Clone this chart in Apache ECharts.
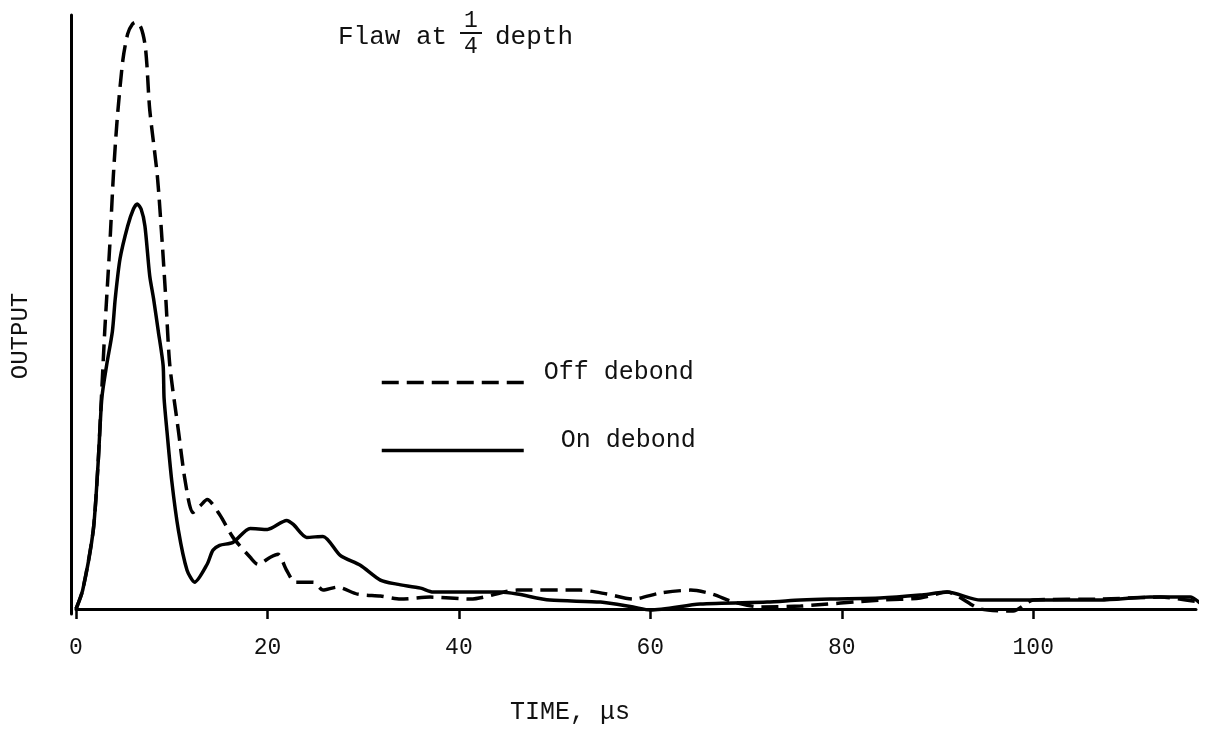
<!DOCTYPE html>
<html>
<head>
<meta charset="utf-8">
<style>
  html, body { margin: 0; padding: 0; background: #fff; }
  #chart { width: 1207px; height: 730px; }
</style>
<script src="https://cdn.jsdelivr.net/npm/echarts@6/dist/echarts.min.js"></script>
</head>
<body>
<div id="chart"></div>
<script>
// values (time in µs, output in arbitrary units)
var timeOff = [0, 0.7, 1.8, 2.3, 2.6, 3.0, 3.2, 3.55, 3.9, 4.3, 4.9, 5.4, 5.9, 6.3, 6.8, 7.2, 7.4, 7.7, 8.5, 9.0, 9.4, 9.8, 10.7, 11.4, 12.2, 13.0, 13.7, 15.0, 16.4, 18.2, 19.0, 20.3, 21.1, 22.0, 22.9, 24.8, 25.8, 27.3, 29.4, 31.8, 33.9, 37.0, 41.2, 46.1, 52.7, 55.5, 58.2, 61.0, 64.2, 66.5, 68.7, 71.5, 75.7, 84.0, 88.2, 91.0, 94.5, 97.9, 100.0, 107.0, 113.3, 117.4];
var outputOff = [0, 19, 79, 145, 202, 279, 312, 369, 435, 492, 552, 578, 588, 590, 584, 568, 548, 502, 435, 369, 309, 245, 179, 129, 97, 104, 110, 95, 72, 52, 45, 52, 55, 39, 27, 27, 19, 22, 15, 13, 10, 12, 10, 19, 19, 15, 10, 16, 19, 15, 7, 2, 3, 9, 11, 17, 0, -2, 9, 10, 12, 7];

var timeOn = [0, 0.7, 1.8, 2.3, 2.7, 3.2, 3.8, 4.1, 4.6, 5.4, 6.0, 6.4, 6.8, 7.2, 7.7, 8.1, 8.6, 9.1, 9.2, 9.5, 10.0, 10.7, 11.6, 12.4, 13.7, 14.3, 15.0, 16.4, 18.2, 20.0, 22.0, 22.7, 24.1, 25.8, 27.6, 29.7, 31.8, 33.5, 36.0, 37.3, 44.3, 46.1, 49.5, 54.8, 58.2, 60.0, 65.2, 72.2, 75.7, 78.8, 84.0, 88.2, 91.0, 94.5, 100.0, 107.0, 112.2, 116.4, 117.4];
var outputOn = [0, 19, 79, 145, 212, 245, 279, 312, 352, 385, 402, 407, 402, 385, 335, 312, 279, 245, 212, 179, 129, 79, 39, 27, 45, 59, 64, 67, 81, 80, 89, 85, 72, 73, 54, 44, 29, 25, 21, 17, 17, 15, 9, 7, 2, -1, 5, 7, 9, 10, 11, 14, 17, 9, 9, 9, 12, 12, 6];

var timeTicks = [0, 20, 40, 60, 80, 100];

var monoFont = '"Liberation Mono", "DejaVu Sans Mono", monospace';

function pairs(xs, ys) {
  return xs.map(function (x, i) { return [x, ys[i]]; });
}

// legend label sits a bit above its line sample, so add an empty second line
function legendLabel(name) {
  return '{t|' + name + '}\n{s| }';
}
var legendRich = {
  t: { fontFamily: monoFont, fontSize: 25, color: '#111' },
  s: { fontSize: 4, height: 20 }
};

var chartDom = document.getElementById('chart');
var myChart = echarts.init(chartDom, null, { renderer: 'canvas' });

var option = {
  backgroundColor: '#ffffff',
  animation: false,
  grid: { left: 76, right: 11, top: 15, bottom: 113 },
  xAxis: {
    type: 'value',
    min: 0,
    max: 117,
    name: 'TIME, \u03bcs',
    nameLocation: 'middle',
    nameGap: 86,
    nameTextStyle: { fontFamily: monoFont, fontSize: 25, color: '#111', padding: [0, 132, 0, 0] },
    axisLine: { show: true, lineStyle: { color: '#000', width: 3 } },
    axisTick: { show: true, inside: false, length: 10, customValues: timeTicks, lineStyle: { color: '#000', width: 2.5 } },
    axisLabel: { customValues: timeTicks, margin: 22, fontFamily: monoFont, fontSize: 23, color: '#111' },
    splitLine: { show: false }
  },
  yAxis: {
    type: 'value',
    min: -5,
    max: 597,
    offset: 5,
    axisLine: { show: true, onZero: false, lineStyle: { color: '#000', width: 3 } },
    axisTick: { show: false },
    axisLabel: { show: false },
    splitLine: { show: false }
  },
  legend: [
    {
      data: ['Off debond'],
      left: 375, top: 355,
      itemWidth: 142, itemHeight: 14,
      itemStyle: { opacity: 0 },
      lineStyle: { width: 3.5 },
      formatter: legendLabel,
      textStyle: { padding: [0, 0, 0, 15], rich: legendRich }
    },
    {
      data: ['On debond'],
      left: 375, top: 423,
      itemWidth: 142, itemHeight: 14,
      itemStyle: { opacity: 0 },
      lineStyle: { width: 3.5 },
      formatter: legendLabel,
      textStyle: { padding: [0, 0, 0, 32], rich: legendRich }
    }
  ],
  graphic: [
    { type: 'text', style: { text: 'Flaw at', x: 338, y: 37, fontFamily: monoFont, fontSize: 26, fill: '#111', verticalAlign: 'middle' } },
    { type: 'text', style: { text: '1', x: 471, y: 21, fontFamily: monoFont, fontSize: 23, fill: '#111', align: 'center', verticalAlign: 'middle' } },
    { type: 'line', shape: { x1: 460, y1: 33, x2: 482, y2: 33 }, style: { stroke: '#111', lineWidth: 2 } },
    { type: 'text', style: { text: '4', x: 471, y: 47, fontFamily: monoFont, fontSize: 23, fill: '#111', align: 'center', verticalAlign: 'middle' } },
    { type: 'text', style: { text: 'depth', x: 495, y: 37, fontFamily: monoFont, fontSize: 26, fill: '#111', verticalAlign: 'middle' } },
    { type: 'text', x: 21, y: 336, rotation: Math.PI / 2, style: { text: 'OUTPUT', x: 0, y: 0, fontFamily: monoFont, fontSize: 24, fill: '#111', align: 'center', verticalAlign: 'middle' } }
  ],
  series: [
    {
      name: 'Off debond',
      type: 'line',
      data: pairs(timeOff, outputOff),
      smooth: 0.25,
      symbol: 'none',
      lineStyle: { color: '#000', width: 3.5, type: [17, 8] },
      itemStyle: { color: '#000' }
    },
    {
      name: 'On debond',
      type: 'line',
      data: pairs(timeOn, outputOn),
      smooth: 0.25,
      symbol: 'none',
      lineStyle: { color: '#000', width: 3.5 },
      itemStyle: { color: '#000' }
    }
  ]
};

myChart.setOption(option);
window.addEventListener('resize', myChart.resize);
</script>
</body>
</html>
